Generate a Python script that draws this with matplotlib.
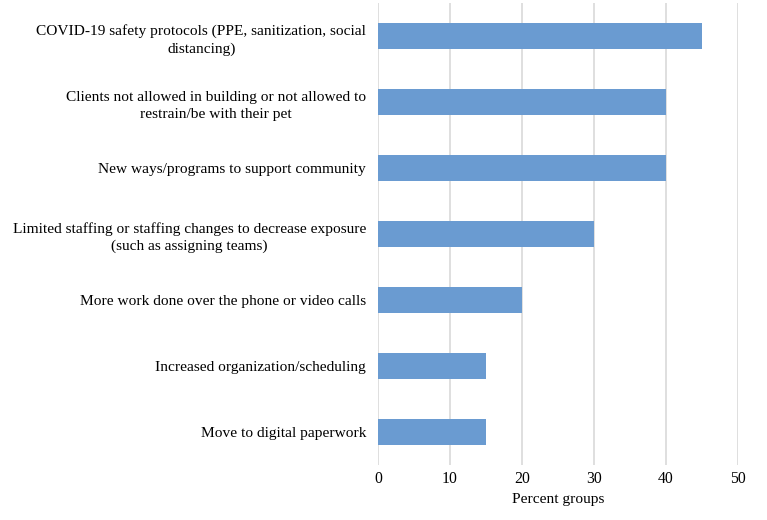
import matplotlib
matplotlib.use("Agg")
import matplotlib.pyplot as plt

categories = [
    "COVID-19 safety protocols (PPE, sanitization, social\ndistancing)",
    "Clients not allowed in building or not allowed to\nrestrain/be with their pet",
    "New ways/programs to support community",
    "Limited staffing or staffing changes to decrease exposure\n(such as assigning teams)",
    "More work done over the phone or video calls",
    "Increased organization/scheduling",
    "Move to digital paperwork",
]
values = [45, 40, 40, 30, 20, 15, 15]
xticks = [0, 10, 20, 30, 40, 50]
xlabel = "Percent groups"

plt.rcParams['font.family'] = ['Liberation Serif', 'DejaVu Serif']

fig = plt.figure(figsize=(7.67, 5.2), dpi=100)
ax = fig.add_axes([0.4928, 0.1058, 0.4694, 0.8882])

ypos = list(range(len(categories)))
ax.barh(ypos, values, height=0.39, color='#6A9BD1', zorder=3)
ax.set_ylim(len(categories) - 0.5, -0.5)
ax.set_xlim(0, 50)
ax.set_xticks(xticks)
ax.set_xticklabels([str(t) for t in xticks], fontsize=11.3)
ax.set_yticks(ypos)
ax.set_yticklabels(categories, fontsize=11.1, multialignment='center',
                   linespacing=1.4)
ax.tick_params(axis='both', length=0)
ax.tick_params(axis='y', pad=8.5)
ax.tick_params(axis='x', pad=4.5)
ax.grid(axis='x', color='#D9D9D9', linewidth=1.2, zorder=0)
for s in ax.spines.values():
    s.set_visible(False)
ax.set_xlabel(xlabel, fontsize=11.1, labelpad=4)

fig.savefig("out.png", dpi=100)
